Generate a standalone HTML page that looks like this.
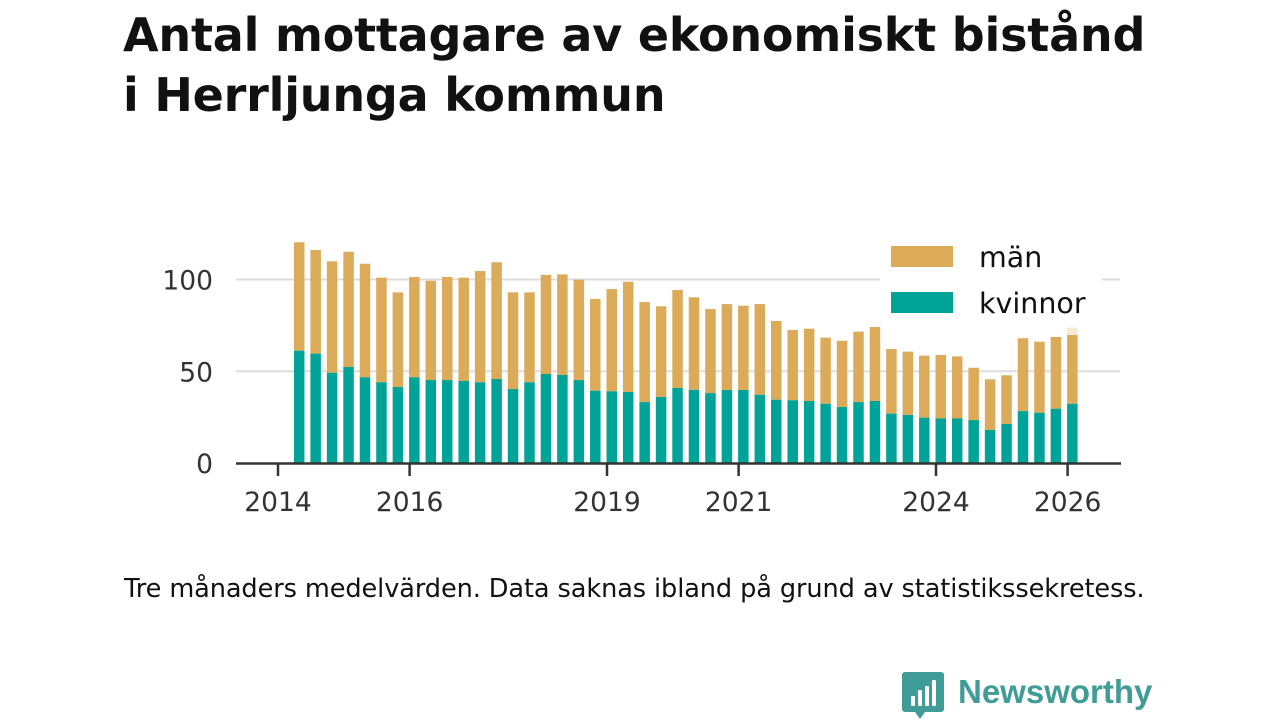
<!DOCTYPE html>
<html><head><meta charset="utf-8"><style>
body{margin:0;width:1280px;height:720px;background:#fff;font-family:"DejaVu Sans",sans-serif;overflow:hidden;position:relative}
#title{position:absolute;left:123px;top:5px;font-size:46px;font-weight:bold;line-height:60px;color:#111;letter-spacing:-0.2px;white-space:nowrap}
#note{position:absolute;left:124px;top:574px;font-size:25.6px;color:#111;white-space:nowrap;letter-spacing:-0.1px}
svg{position:absolute;left:0;top:0}
</style></head><body>
<div id="title">Antal mottagare av ekonomiskt bistånd<br>i Herrljunga kommun</div>
<svg id="chart" width="1280" height="720"></svg>
<div id="note">Tre månaders medelvärden. Data saknas ibland på grund av statistikssekretess.</div>
<script>
const totals=[120.3,116.1,109.9,115.1,108.6,101,93,101.4,99.3,101.4,101,104.6,109.4,93,93,102.5,102.8,99.9,89.4,94.8,98.8,87.7,85.4,94.3,90.3,83.9,86.6,85.7,86.6,77.4,72.5,73.2,68.3,66.6,71.6,74.1,62.1,60.7,58.5,58.9,58.1,51.9,45.6,47.8,68,66.1,68.7,69.8];
const kvinnor=[61.2,59.6,49.2,52.3,46.7,44,41.4,46.7,45.2,45.2,44.7,44,45.8,40.3,44,48.5,48,45.2,39.4,39.1,38.7,33.2,36,40.9,39.9,38.1,39.8,39.8,37.2,34.5,34.2,33.8,32.3,30.5,33.2,33.8,26.9,26.2,24.7,24.3,24.3,23.4,18,21.3,28.3,27.4,29.6,32.3];
const startYear=2014.25;
const yTicks=[0,50,100];
const xTicks=[2014,2016,2019,2021,2024,2026];
const NS="http://www.w3.org/2000/svg";
const svg=document.getElementById('chart');
const FF='DejaVu Sans, sans-serif';
const x=t=>278+(t-2014)*65.8;
const y=v=>463-v*1.835;
function mk(tag,attrs){const e=document.createElementNS(NS,tag);for(const k in attrs)e.setAttribute(k,attrs[k]);svg.appendChild(e);return e;}
yTicks.forEach(v=>{
  if(v>0){const g=mk('line',{x1:236,x2:1120,y1:y(v),y2:y(v),stroke:'#ddd','stroke-width':2});
  
  }
  const t=mk('text',{x:213,y:y(v)+10,'text-anchor':'end','font-size':26.5,fill:'#333','font-family':FF});
  t.textContent=v;
  
  
});
totals.forEach((tot,i)=>{
  const cx=x(startYear+i*0.25)+4.5;
  const m=mk('rect',{x:cx-5,y:y(tot),width:10.5,height:y(kvinnor[i])-y(tot),fill:'#dbab5a'});
  
  
  const k=mk('rect',{x:cx-5,y:y(kvinnor[i]),width:10.5,height:y(0)-y(kvinnor[i]),fill:'#00a398'});
  
  
  if(i===totals.length-1){const f=mk('rect',{x:cx-5,y:y(tot+4),width:10.5,height:y(tot)-y(tot+4),fill:'#f5ead6'});
  
  }
});
const ax=mk('line',{x1:236,x2:1121,y1:463.5,y2:463.5,stroke:'#333','stroke-width':2.5});


xTicks.forEach(yr=>{
  const l=mk('line',{x1:x(yr),x2:x(yr),y1:463,y2:476,stroke:'#333','stroke-width':2.5});
  
  
  const t=mk('text',{x:x(yr),y:511,'text-anchor':'middle','font-size':26.5,fill:'#333','font-family':FF});
  t.textContent=yr;
  
  
});
const lb=mk('rect',{x:880,y:236,width:222,height:88,fill:'#fff'});


[['män','#dbab5a',246],['kvinnor','#00a398',292]].forEach(([n,c,yy])=>{
  const r=mk('rect',{x:891,y:yy,width:62,height:21,fill:c});
  
  
  const t=mk('text',{x:979,y:yy+21,'font-size':28.5,fill:'#111','font-family':FF});
  t.textContent=n;
  
  
});
const lg=mk('path',{d:'M905 672 h36 a3 3 0 0 1 3 3 v34 a3 3 0 0 1 -3 3 h-16 l-5 7 l-5 -7 h-10 a3 3 0 0 1 -3 -3 v-34 a3 3 0 0 1 3 -3z',fill:'#3f9c97'});


[[911,696,4],[918,690,4],[925,686,4],[932,680,4]].forEach(([bx,by,bw])=>{mk('rect',{x:bx,y:by,width:bw,height:706-by,fill:'#fff',rx:1});});
const lt=mk('text',{x:958,y:703,'font-size':33,'font-weight':'bold',fill:'#3f9c97','font-family':'Liberation Sans, sans-serif'});
lt.textContent='Newsworthy';


</script>
</body></html>
